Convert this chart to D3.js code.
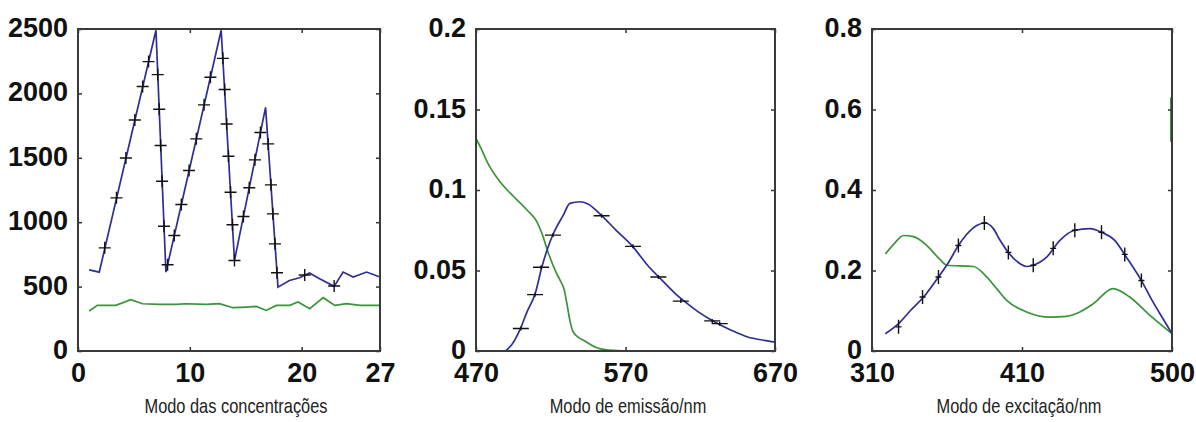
<!DOCTYPE html>
<html>
<head>
<meta charset="utf-8">
<script src="https://cdn.jsdelivr.net/npm/d3@7"></script>
<style>
  body { margin: 0; background: #fff; }
  svg { display: block; }
  .tick text { font-family: "Liberation Sans", Arial, sans-serif; font-weight: bold; font-size: 27px; fill: #111; }
  .tick line { stroke: #333; stroke-width: 1.5; }
  .title { font-family: "Liberation Sans", Arial, sans-serif; font-size: 20px; fill: #222; }
</style>
</head>
<body>
<svg id="chart" width="1196" height="422"></svg>
<script>
// concentration mode
const concXTicks = [0, 10, 20, 27];
const concYTicks = [0, 500, 1000, 1500, 2000, 2500];
const concBlue = [[1, 630], [1.9, 612], [6.97, 2490], [7.86, 612], [12.8, 2490], [13.99, 703], [16.77, 1892],
  [17.88, 496], [18.9, 548], [19.8, 569], [20.7, 605], [21.6, 561], [22.9, 502], [23.7, 613], [24.6, 574],
  [25.8, 613], [27, 574]];
const concGreen = [[1, 310], [1.73, 354], [3.38, 354], [4.72, 398], [5.77, 367], [7.27, 362], [8.76, 362],
  [9.66, 367], [11.45, 362], [12.65, 367], [13.84, 336], [15.04, 341], [15.94, 346], [16.83, 315], [17.73, 354],
  [18.93, 354], [19.67, 380], [20.72, 328], [21.92, 414], [22.96, 354], [24.01, 367], [25.21, 354], [27, 354]];
const concMarks = [[2.39, 801], [3.44, 1189], [4.28, 1499], [5.08, 1794], [5.78, 2053], [6.31, 2247],
  [7.13, 2146], [7.26, 1877], [7.39, 1595], [7.52, 1318], [7.69, 969],
  [8.01, 670], [8.61, 897], [9.24, 1137], [9.93, 1401], [10.58, 1647], [11.27, 1911], [11.84, 2125],
  [12.95, 2272], [13.11, 2030], [13.29, 1763], [13.45, 1512], [13.64, 1233], [13.81, 980], [13.99, 703],
  [14.79, 1044], [15.31, 1267], [15.82, 1484], [16.31, 1696],
  [17.0, 1608], [17.25, 1290], [17.42, 1065], [17.61, 832], [17.79, 607],
  [20.27, 590], [22.9, 505]];

// emission mode
const emisXTicks = [470, 570, 670];
const emisYTicks = [0, 0.05, 0.1, 0.15, 0.2];
const emisBlue = [[489.8, 0], [494, 0.004], [499.7, 0.0139], [504, 0.024], [509.6, 0.0357], [514.1, 0.0523],
  [518, 0.064], [521.8, 0.073], [528.4, 0.0844], [532.8, 0.0917], [539.4, 0.0927], [544.9, 0.0913],
  [553.7, 0.0844], [563.6, 0.0751], [574.6, 0.0651], [585.6, 0.0523], [592.2, 0.0461], [603.3, 0.0357],
  [609.9, 0.0305], [618.7, 0.0243], [629.7, 0.018], [640.7, 0.0129], [651.7, 0.0087], [662.7, 0.0066],
  [670, 0.0055]];
const emisGreen = [[470, 0.132], [473.3, 0.126], [477.7, 0.117], [486.5, 0.1046], [495.3, 0.0958],
  [504.1, 0.0876], [510.7, 0.0803], [514.1, 0.073], [518.5, 0.0606], [522.9, 0.0502], [526.2, 0.044],
  [529, 0.038], [530.6, 0.0305], [532.8, 0.019], [535, 0.0118], [543.8, 0.0056], [552.6, 0.0015],
  [561.4, 0.0004], [574.6, 0], [670, 0]];
const emisMarks = [[500, 0.014], [509.5, 0.035], [513.5, 0.052], [521.5, 0.072], [554, 0.084], [575, 0.065],
  [592, 0.046], [607, 0.031], [628, 0.0187], [633, 0.017]];

// excitation mode (last tick sits on the right edge, labelled 500)
const excXTicks = [310, 410, 510];
const excXLabels = ['310', '410', '500'];
const excYTicks = [0, 0.2, 0.4, 0.6, 0.8];
const excBlue = [[318.9, 0.043], [327.7, 0.068], [335.5, 0.1], [344.4, 0.134], [354.3, 0.184], [361, 0.22],
  [367.6, 0.262], [373.2, 0.29], [379.8, 0.312], [385.4, 0.318], [390.9, 0.304], [395.4, 0.275],
  [399.8, 0.25], [408.7, 0.217], [413.1, 0.21], [417.5, 0.213], [426.4, 0.233], [435.3, 0.275],
  [445.2, 0.3], [455.2, 0.304], [463, 0.295], [471.8, 0.275], [479.6, 0.233], [489.6, 0.175],
  [497.3, 0.122], [504, 0.08], [510, 0.043]];
const excGreen = [[318.9, 0.241], [324.4, 0.265], [331.1, 0.287], [337.7, 0.284], [346.6, 0.262],
  [355.4, 0.227], [359.9, 0.213], [377.6, 0.21], [386.5, 0.184], [393.1, 0.155], [399.8, 0.126],
  [413.1, 0.097], [428.6, 0.084], [439.7, 0.086], [446.3, 0.093], [457.4, 0.117], [470.7, 0.155],
  [481.8, 0.134], [495.1, 0.089], [510, 0.043]];
const excGreenEdge = [[509.2, 0.52], [509.2, 0.63]];
const excMarks = [[327.7, 0.06], [343.7, 0.134], [354.3, 0.184], [367.6, 0.262], [384.9, 0.318],
  [400.9, 0.245], [417.5, 0.213], [430.8, 0.255], [445.2, 0.3], [463, 0.295], [478.5, 0.24], [489.6, 0.175]];

const titles = ['Modo das concentrações', 'Modo de emissão/nm', 'Modo de excitação/nm'];

const blue = '#2e2e96';
const green = '#3a943a';
const plotTop = 29;
const plotBottom = 351;

const panels = [
  {
    left: 78, right: 380, xDomain: [0, 27], yDomain: [0, 2500],
    xTicks: concXTicks, xLabels: concXTicks.map(String), yTicks: concYTicks,
    lines: [{ data: concGreen, color: green }, { data: concBlue, color: blue }],
    marks: concMarks, markW: 6, markH: 6, curve: d3.curveLinear, title: titles[0], titleX: 236,
  },
  {
    left: 476, right: 775, xDomain: [470, 670], yDomain: [0, 0.2],
    xTicks: emisXTicks, xLabels: emisXTicks.map(String), yTicks: emisYTicks,
    lines: [{ data: emisGreen, color: green }, { data: emisBlue, color: blue }],
    marks: emisMarks, markW: 8, markH: 2, curve: d3.curveMonotoneX, title: titles[1], titleX: 628,
  },
  {
    left: 872, right: 1172, xDomain: [310, 510], yDomain: [0, 0.8],
    xTicks: excXTicks, xLabels: excXLabels, yTicks: excYTicks,
    lines: [{ data: excGreen, color: green }, { data: excGreenEdge, color: green }, { data: excBlue, color: blue }],
    marks: excMarks, markW: 3, markH: 7, curve: d3.curveMonotoneX, title: titles[2], titleX: 1019,
  },
];

const svg = d3.select('#chart');
svg.append('rect').attr('width', 1196).attr('height', 422).attr('fill', '#fff');

panels.forEach((p) => {
  const x = d3.scaleLinear().domain(p.xDomain).range([p.left, p.right]);
  const y = d3.scaleLinear().domain(p.yDomain).range([plotBottom, plotTop]);
  const g = svg.append('g');

  const line = d3.line().x((d) => x(d[0])).y((d) => y(d[1])).curve(p.curve);

  g.selectAll('.series')
    .data(p.lines)
    .join('path')
    .attr('class', 'series')
    .attr('d', (d) => line(d.data))
    .attr('fill', 'none')
    .attr('stroke', (d) => d.color)
    .attr('stroke-width', 1.7);

  g.selectAll('.mark')
    .data(p.marks)
    .join('path')
    .attr('class', 'mark')
    .attr('transform', (d) => `translate(${x(d[0])},${y(d[1])})`)
    .attr('d', `M${-p.markW},0H${p.markW}M0,${-p.markH}V${p.markH}`)
    .attr('stroke', '#111')
    .attr('stroke-width', 1.4);

  const noDomain = (a) => a.select('.domain').remove();

  g.append('g')
    .attr('transform', `translate(0,${plotBottom})`)
    .call(d3.axisBottom(x).tickValues(p.xTicks).tickFormat((d, i) => p.xLabels[i]).tickSize(-4).tickPadding(12))
    .call(noDomain);
  g.append('g')
    .attr('transform', `translate(0,${plotTop})`)
    .call(d3.axisTop(x).tickValues(p.xTicks).tickFormat('').tickSize(-4))
    .call(noDomain);
  g.append('g')
    .attr('transform', `translate(${p.left},0)`)
    .call(d3.axisLeft(y).tickValues(p.yTicks).tickFormat((d) => String(d)).tickSize(-4).tickPadding(10))
    .call(noDomain)
    .call((a) => a.selectAll('text').attr('dy', '0.28em'));
  g.append('g')
    .attr('transform', `translate(${p.right},0)`)
    .call(d3.axisRight(y).tickValues(p.yTicks).tickFormat('').tickSize(-4))
    .call(noDomain);

  g.append('rect')
    .attr('x', p.left)
    .attr('y', plotTop)
    .attr('width', p.right - p.left)
    .attr('height', plotBottom - plotTop)
    .attr('fill', 'none')
    .attr('stroke', '#3a3a3a')
    .attr('stroke-width', 2);

  // narrow axis title
  g.append('text')
    .attr('class', 'title')
    .attr('transform', `translate(${p.titleX},413) scale(0.82,1)`)
    .attr('text-anchor', 'middle')
    .text(p.title);
});
</script>
</body>
</html>
